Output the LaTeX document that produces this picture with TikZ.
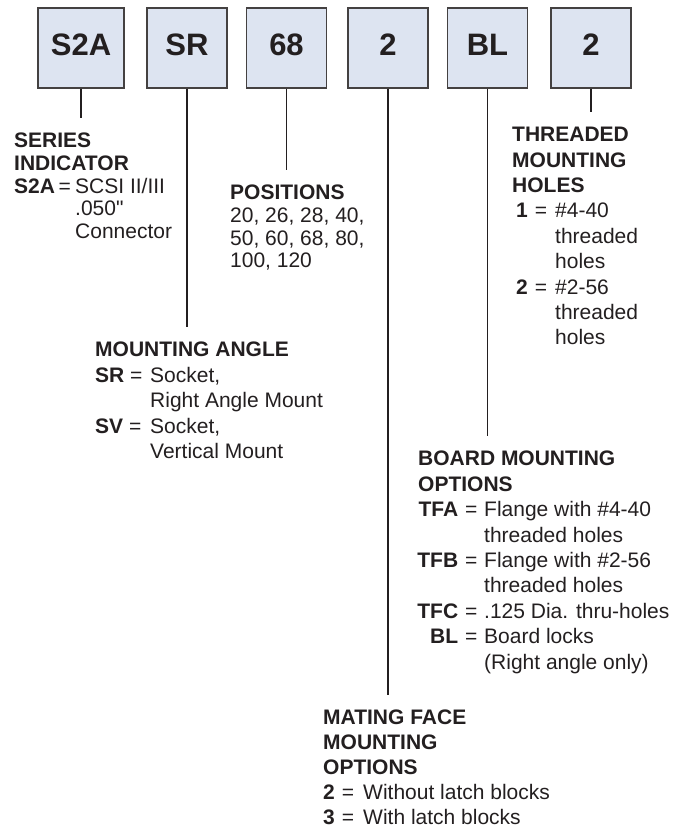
\documentclass[tikz,border=0pt]{standalone}
\usepackage{fontspec}
\setmainfont{Liberation Sans}[Ligatures=TeXOff]
\usetikzlibrary{positioning}

\definecolor{boxfill}{RGB}{221,228,241}
\definecolor{ink}{RGB}{35,31,32}

\begin{document}
\begin{tikzpicture}[
    x=1pt, y=-1pt,
    code/.style={draw=ink!85, fill=boxfill, line width=1.1pt, minimum width=80pt,
                 minimum height=80pt, text depth=6pt, text=ink,
                 font=\fontsize{31}{31}\selectfont\bfseries},
    lead/.style={draw=ink, line width=1.4pt},
    blk/.style={anchor=north west, align=left, inner xsep=0pt, inner ysep=15pt,
                text=ink, font=\fontsize{21}{25.4}\selectfont},
    tight/.style={font=\fontsize{21}{22.6}\selectfont}
]
\useasboundingbox (0,0) rectangle (688,831);

% part number boxes
\node[code, minimum width=86pt] (series) at (81,48) {S2A};
\node[code] (angle) at (187,48) {SR};
\node[code] (pos) at (286.5,48) {68};
\node[code] (face) at (388,48) {2};
\node[code] (board) at (487.5,48) {BL};
\node[code] (holes) at (591,48) {2};

% explanations
\node[blk, tight] (seriesTxt) at (14,118) {\textbf{SERIES}\\\textbf{INDICATOR}\\
    \makebox[61pt][l]{\textbf{S2A}\,=}SCSI II/III\\\hspace*{61pt}.050"\\\hspace*{61pt}Connector};
\node[blk, tight] (posTxt) at (230,170) {\textbf{POSITIONS}\\20, 26, 28, 40,\\50, 60, 68, 80,\\100, 120};
\node[blk] (angleTxt) at (95,327) {\textbf{MOUNTING ANGLE}\\
    \makebox[55pt][l]{\textbf{SR} =}Socket,\\\hspace*{55pt}Right Angle Mount\\
    \makebox[55pt][l]{\textbf{SV} =}Socket,\\\hspace*{55pt}Vertical Mount};
\node[blk] (holesTxt) at (512,112) {\textbf{THREADED}\\\textbf{MOUNTING}\\\textbf{HOLES}\\
    \makebox[43pt][l]{\hspace{4pt}\textbf{1}\hspace{7pt}=}\#4-40\\\hspace*{43pt}threaded\\\hspace*{43pt}holes\\
    \makebox[43pt][l]{\hspace{4pt}\textbf{2}\hspace{7pt}=}\#2-56\\\hspace*{43pt}threaded\\\hspace*{43pt}holes};
\node[blk] (boardTxt) at (418,436) {\textbf{BOARD MOUNTING}\\\textbf{OPTIONS}\\
    \makebox[40pt][r]{\textbf{TFA}}\makebox[26pt]{=}Flange with \#4-40\\\hspace*{66pt}threaded holes\\
    \makebox[40pt][r]{\textbf{TFB}}\makebox[26pt]{=}Flange with \#2-56\\\hspace*{66pt}threaded holes\\
    \makebox[40pt][r]{\textbf{TFC}}\makebox[26pt]{=}.125 Dia. thru-holes\\
    \makebox[40pt][r]{\textbf{BL}}\makebox[26pt]{=}Board locks\\\hspace*{66pt}(Right angle only)};
\node[blk, font=\fontsize{21}{25}\selectfont] (faceTxt) at (323,695) {\textbf{MATING FACE}\\\textbf{MOUNTING}\\\textbf{OPTIONS}\\
    \makebox[40pt][l]{\textbf{2}\hspace{7pt}=}Without latch blocks\\
    \makebox[40pt][l]{\textbf{3}\hspace{7pt}=}With latch blocks};

% leaders
\draw[lead] (series.south) -- (series.south |- seriesTxt.north);
\draw[lead] (angle.south) -- (angle.south |- angleTxt.north);
\draw[lead] (pos.south) -- (pos.south |- posTxt.north);
\draw[lead] (face.south) -- (face.south |- faceTxt.north);
\draw[lead] (board.south) -- (board.south |- boardTxt.north);
\draw[lead] (holes.south) -- (holes.south |- holesTxt.north);
\end{tikzpicture}
\end{document}
